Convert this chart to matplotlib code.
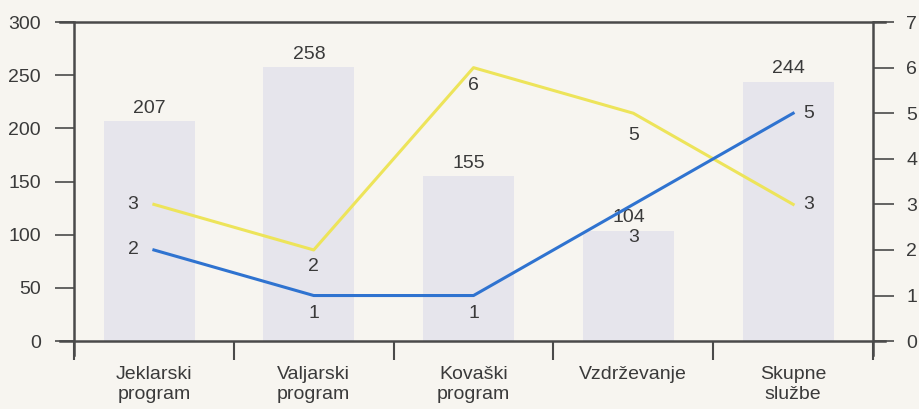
import matplotlib.pyplot as plt
from matplotlib.lines import Line2D

# --- Data ---
categories = ["Jeklarski\nprogram", "Valjarski\nprogram", "Kovaški\nprogram",
              "Vzdrževanje", "Skupne\nslužbe"]
bar_values = [207, 258, 155, 104, 244]
yellow_values = [3, 2, 6, 5, 3]
blue_values = [2, 1, 1, 3, 5]

plt.rcParams["font.family"] = ["Liberation Sans", "DejaVu Sans"]
plt.rcParams["font.size"] = 14

bg = "#f7f5f0"
ink = "#3a3a3a"
axis_col = "#4a4a4a"

fig = plt.figure(figsize=(9.19, 4.09), dpi=100, facecolor=bg)
ax = fig.add_axes([0.0805, 0.166, 0.8695, 0.780])
ax.set_facecolor(bg)
x = list(range(len(categories)))

# --- Bars (left axis) ---
bars = ax.bar([i - 0.03 for i in x], bar_values, width=0.57, color="#e6e5ec", zorder=1)
ax.bar_label(bars, padding=3, color=ink, fontsize=14)
ax.set_xlim(-0.5, len(categories) - 0.5)
ax.set_ylim(0, 300)
ax.set_yticks(range(0, 301, 50))

# --- Lines (right axis) ---
ax2 = ax.twinx()
ax2.set_ylim(0, 7)
ax2.set_yticks(range(0, 8))
ax2.plot(x, yellow_values, color="#ede45a", lw=2.2, zorder=3)
ax2.plot(x, blue_values, color="#2f73d0", lw=2.2, zorder=4)

yellow_off = [(-15, 0), (0, -12), (0, -13), (0, -16), (11, 0)]
blue_off = [(-15, 0), (0, -13), (0, -13), (0, -24), (11, 0)]
for i in x:
    ax2.annotate(str(yellow_values[i]), (i, yellow_values[i]), xytext=yellow_off[i],
                 textcoords="offset points", ha="center", va="center", color=ink)
    ax2.annotate(str(blue_values[i]), (i, blue_values[i]), xytext=blue_off[i],
                 textcoords="offset points", ha="center", va="center", color=ink)

# --- Axis styling ---
for a in (ax, ax2):
    for s in a.spines.values():
        s.set_visible(False)

ax.set_xticks(x)
ax.set_xticklabels(categories, color=ink, linespacing=1.25)
ax.tick_params(axis="x", length=0, pad=18)
ax.set_xticks([i - 0.5 for i in range(len(categories) + 1)], minor=True)
ax.tick_params(axis="x", which="minor", direction="out", length=14, width=1.5,
               color=axis_col)
ax.tick_params(axis="y", direction="out", length=14, width=1.2, color=axis_col,
               labelcolor=ink, pad=10)
ax2.tick_params(axis="y", direction="out", length=15, width=1.2, color=axis_col,
                labelcolor=ink, pad=9)

# frame lines: verticals extend below, horizontals extend past both sides
tr = ax.transAxes
frame = [
    ([-0.0175, 1.015], [0, 0]),
    ([-0.0175, 1.015], [1, 1]),
    ([0, 0], [-0.045, 1]),
    ([1, 1], [-0.045, 1]),
]
for xs, ys in frame:
    ax.add_line(Line2D(xs, ys, transform=tr, color=axis_col, lw=1.8,
                       clip_on=False, zorder=5))

fig.savefig("out.png", dpi=100, facecolor=bg)
